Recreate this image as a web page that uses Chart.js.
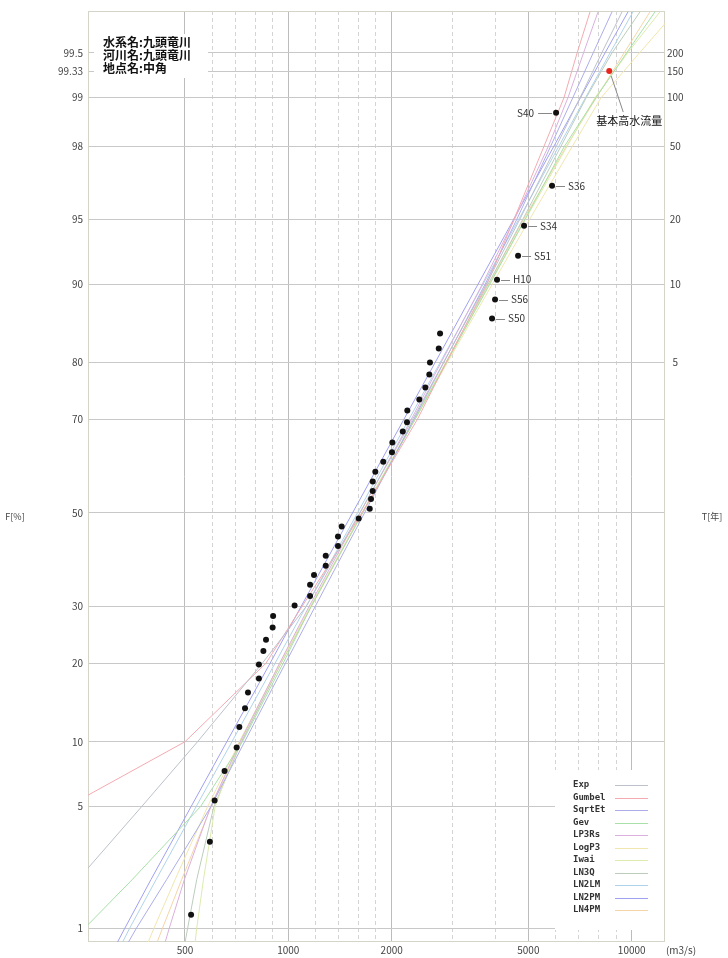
<!DOCTYPE html>
<html>
<head>
<meta charset="utf-8">
<script src="https://cdn.jsdelivr.net/npm/chart.js@4.4.0/dist/chart.umd.min.js"></script>
<style>
  html, body { margin: 0; padding: 0; background: #fff; }
  #wrap { width: 728px; height: 958px; position: relative; }
</style>
</head>
<body>
<div id="wrap"><canvas id="chart"></canvas></div>
<script>
// observed annual maximum discharge (m3/s) and plotting position F (%)
const obsQ = [6022, 5861, 4858, 4667, 4053, 3999, 3920, 2766, 2742, 2585, 2574, 2506, 2407, 2221, 2216, 2154,
              2009, 2004, 1890, 1792, 1761, 1761, 1741, 1726, 1603, 1430, 1395, 1395, 1285, 1285, 1188, 1157,
              1157, 1043, 903, 900, 861, 846, 821, 821, 763, 748, 720, 707, 652, 610, 591, 521];
const obsF = [98.75, 96.65, 94.61, 92.51, 90.43, 88.39, 86.18, 84.24, 82.13, 80.01, 78.08, 75.87, 73.73, 71.68, 69.43, 67.58,
              65.34, 63.31, 61.27, 59.11, 56.99, 54.90, 53.12, 50.94, 48.77, 46.99, 44.77, 42.63, 40.54, 38.38, 36.39, 34.35,
              32.08, 30.20, 28.17, 26.05, 23.87, 21.97, 19.79, 17.68, 15.72, 13.70, 11.54, 9.45, 7.41, 5.37, 3.28, 1.22];
// names of the largest floods (same order as the top of obsQ)
const obsNames = ['S40', 'S36', 'S34', 'S51', 'H10', 'S56', 'S50'];

// basic high water discharge (1/150)
const designQ = [8600];
const designF = [99.333];
const designLabel = '基本高水流量';

// fitted distributions, Q (m3/s) at each probability of curveF
const curveF   = [0.8, 1, 2, 5, 10, 20, 30, 50, 70, 80, 90, 95, 98, 99, 99.5, 99.75];
const expQ     = [169, 183, 244, 374, 544, 840, 1127, 1614, 2301, 2829, 3771, 4723, 6032, 7074, 8177, 9375];
const gumbelQ  = [null, null, null, 227, 500, 861, 1096, 1639, 2377, 2880, 3790, 4542, 5554, 6352, 6933, 7563];
const sqrtEtQ  = [341, 361, 442, 595, 746, 981, 1197, 1667, 2320, 2833, 3743, 4629, 5807, 6740, 7720, 8765];
const gevQ     = [234, 255, 351, 555, 735, 966, 1164, 1645, 2339, 2886, 3863, 4890, 6371, 7874, 9656, 11696];
const lp3rsQ   = [437, 450, 498, 594, 724, 943, 1149, 1617, 2280, 2784, 3674, 4558, 5718, 6524, 7238, 7980];
const logP3Q   = [390, 406, 468, 582, 721, 946, 1160, 1642, 2339, 2906, 3928, 5044, 6719, 8149, 10530, 13404];
const iwaiQ    = [535, 541, 566, 612, 720, 950, 1159, 1638, 2323, 2869, 3847, 4903, 6488, 7821, 9728, 12093];
const ln3qQ    = [500, 509, 541, 607, 731, 953, 1163, 1642, 2337, 2879, 3819, 4819, 6223, 7374, 8758, 10578];
const ln2lmQ   = [328, 345, 412, 539, 685, 915, 1126, 1590, 2245, 2766, 3692, 4688, 6136, 7338, 8644, 10092];
const ln2pmQ   = [317, 334, 398, 521, 662, 885, 1089, 1538, 2171, 2675, 3570, 4533, 5934, 7096, 8359, 9759];
const ln4pmQ   = [414, 430, 489, 596, 730, 952, 1167, 1646, 2339, 2886, 3834, 4844, 6451, 7894, 9500, 11310];

const curveNames  = ['Exp', 'Gumbel', 'SqrtEt', 'Gev', 'LP3Rs', 'LogP3', 'Iwai', 'LN3Q', 'LN2LM', 'LN2PM', 'LN4PM'];
const curveValues = [expQ, gumbelQ, sqrtEtQ, gevQ, lp3rsQ, logP3Q, iwaiQ, ln3qQ, ln2lmQ, ln2pmQ, ln4pmQ];
const curveColors = ['#bcc1cb', '#f4aab1', '#adadea', '#a8e0a8', '#dbb0de', '#f1e6ae',
                     '#dcebae', '#bccdbc', '#b0d3ec', '#a0a0f0', '#f5d5a8'];

// axis ticks
const fTicks  = [1, 5, 10, 20, 30, 50, 70, 80, 90, 95, 98, 99, 99.33, 99.5];   // F[%], left
const tTicks  = [5, 10, 20, 50, 100, 150, 200];                                 // T[年], right
const qMajor  = [500, 1000, 2000, 5000, 10000];
const qMinor  = [600, 700, 800, 900, 1200, 1400, 1600, 1800, 3000, 4000, 6000, 7000, 8000, 9000];

const stationText = ['水系名:九頭竜川', '河川名:九頭竜川', '地点名:中角'];

const family = "'Noto Sans CJK JP', 'Noto Sans', sans-serif";

// inverse normal CDF (Acklam), used for the probability axis
function probit(p) {
  const a = [-3.969683028665376e+01, 2.209460984245205e+02, -2.759285104469687e+02, 1.383577518672690e+02, -3.066479806614716e+01, 2.506628277459239e+00];
  const b = [-5.447609879822406e+01, 1.615858368580409e+02, -1.556989798598866e+02, 6.680131188771972e+01, -1.328068155288572e+01];
  const c = [-7.784894002430293e-03, -3.223964580411365e-01, -2.400758277161838e+00, -2.549732539343734e+00, 4.374664141464968e+00, 2.938163982698783e+00];
  const d = [7.784695709041462e-03, 3.224671290700398e-01, 2.445134137142996e+00, 3.754408661907416e+00];
  const pl = 0.02425;
  let q, r;
  if (p < pl) {
    q = Math.sqrt(-2 * Math.log(p));
    return (((((c[0]*q+c[1])*q+c[2])*q+c[3])*q+c[4])*q+c[5]) / ((((d[0]*q+d[1])*q+d[2])*q+d[3])*q+1);
  }
  if (p > 1 - pl) {
    q = Math.sqrt(-2 * Math.log(1 - p));
    return -(((((c[0]*q+c[1])*q+c[2])*q+c[3])*q+c[4])*q+c[5]) / ((((d[0]*q+d[1])*q+d[2])*q+d[3])*q+1);
  }
  q = p - 0.5; r = q * q;
  return (((((a[0]*r+a[1])*r+a[2])*r+a[3])*r+a[4])*r+a[5])*q / (((((b[0]*r+b[1])*r+b[2])*r+b[3])*r+b[4])*r+1);
}
const z = f => probit(f / 100);

// datasets
const datasets = [];
datasets.push({
  label: 'obs',
  data: obsQ.map((q, i) => ({ x: q, y: z(obsF[i]) })),
  showLine: false,
  pointRadius: 3,
  pointBackgroundColor: '#111',
  pointBorderWidth: 0,
  order: 0
});
datasets.push({
  label: 'design',
  data: designQ.map((q, i) => ({ x: q, y: z(designF[i]) })),
  showLine: false,
  pointRadius: 3,
  pointBackgroundColor: '#e8261e',
  pointBorderWidth: 0,
  order: 0
});
curveNames.forEach((name, i) => {
  datasets.push({
    label: name,
    data: curveF.map((f, j) => curveValues[i][j] == null ? null : { x: curveValues[i][j], y: z(f) }).filter(p => p),
    showLine: true,
    borderColor: curveColors[i],
    borderWidth: 1,
    pointRadius: 0,
    tension: 0,
    clip: 0,
    order: 1
  });
});

// extra drawing: boxes, legend, labels
const overlay = {
  id: 'overlay',
  beforeDatasetsDraw(chart) {
    const { ctx, chartArea: a } = chart;
    ctx.save();
    ctx.fillStyle = '#fff';
    ctx.fillRect(94, 34, 114, 44);        // station info box
    ctx.fillRect(555, 770, a.right - 556, 160); // legend box
    // frame
    ctx.strokeStyle = '#d4d4c8';
    ctx.lineWidth = 1;
    ctx.strokeRect(a.left + 0.5, a.top + 0.5, a.right - a.left - 1, a.bottom - a.top - 1);
    // station info
    ctx.fillStyle = '#111';
    ctx.font = `bold 12px ${family}`;
    ctx.textAlign = 'left';
    ctx.textBaseline = 'middle';
    stationText.forEach((t, i) => ctx.fillText(t, 103, 42 + i * 13));
    // legend
    ctx.font = "bold 9px 'DejaVu Sans Mono', monospace";
    curveNames.forEach((n, i) => {
      const y = Math.round(785 + i * 12.5);
      ctx.fillStyle = '#333';
      ctx.fillText(n, 573, y);
      ctx.strokeStyle = curveColors[i];
      ctx.lineWidth = 1.2;
      ctx.beginPath();
      ctx.moveTo(615, y + 0.5);
      ctx.lineTo(648, y + 0.5);
      ctx.stroke();
    });
    ctx.restore();
  },
  afterDatasetsDraw(chart) {
    const ctx = chart.ctx;
    ctx.save();
    ctx.font = `10px ${family}`;
    ctx.textBaseline = 'middle';
    ctx.strokeStyle = '#888';
    ctx.lineWidth = 1;
    ctx.fillStyle = '#333';
    // flood names
    const pts = chart.getDatasetMeta(0).data;
    obsNames.forEach((name, i) => {
      const p = pts[i];
      const y = Math.round(p.y) + 0.5;
      ctx.beginPath();
      if (i === 0) {
        ctx.moveTo(p.x - 4, y); ctx.lineTo(p.x - 18, y); ctx.stroke();
        ctx.textAlign = 'right';
        ctx.fillText(name, p.x - 22, p.y);
      } else {
        ctx.moveTo(p.x + 4, y); ctx.lineTo(p.x + 13, y); ctx.stroke();
        ctx.textAlign = 'left';
        ctx.fillText(name, p.x + 16, p.y);
      }
    });
    // design flood label
    const d = chart.getDatasetMeta(1).data[0];
    ctx.beginPath();
    ctx.moveTo(d.x + 2, d.y + 5);
    ctx.lineTo(d.x + 14, d.y + 41);
    ctx.stroke();
    ctx.fillStyle = '#111';
    ctx.font = `11px ${family}`;
    ctx.textAlign = 'left';
    ctx.fillText(designLabel, d.x - 13, d.y + 50);
    ctx.restore();
  },
  afterDraw(chart) {
    const ctx = chart.ctx;
    ctx.save();
    ctx.fillStyle = '#444';
    ctx.font = `9px ${family}`;
    ctx.textAlign = 'center';
    ctx.textBaseline = 'middle';
    ctx.fillText('F[%]', 15, 517);
    ctx.fillText('T[年]', 712, 517);
    ctx.font = `10px ${family}`;
    ctx.fillText('(m3/s)', 681, 950);
    ctx.restore();
  }
};

const tickFont = { family: family, size: 10 };

new Chart(document.getElementById('chart'), {
  type: 'scatter',
  data: { datasets: datasets },
  options: {
    responsive: true,
    maintainAspectRatio: false,
    animation: false,
    layout: { padding: { top: 10, left: 0, right: 0, bottom: 0 } },
    plugins: {
      legend: { display: false },
      tooltip: { enabled: false }
    },
    scales: {
      x: {
        type: 'logarithmic',
        min: 261,
        max: 12500,
        afterBuildTicks: s => { s.ticks = qMajor.concat(qMinor).sort((p, q) => p - q).map(v => ({ value: v })); },
        afterFit: s => { s.height = 16; },
        grid: {
          drawTicks: false,
          lineWidth: 1,
          color: c => (c.tick && qMajor.includes(c.tick.value)) ? '#bcbcbc' : '#d4d4d4'
        },
        border: {
          display: false,
          dash: c => (c.tick && qMajor.includes(c.tick.value)) ? [] : [4, 3]
        },
        ticks: {
          autoSkip: false,
          maxRotation: 0,
          padding: 2,
          color: '#444',
          font: tickFont,
          callback: v => qMajor.includes(v) ? String(v) : ''
        }
      },
      y: {
        type: 'linear',
        position: 'left',
        min: -2.403,
        max: 2.811,
        afterBuildTicks: s => { s.ticks = fTicks.map(f => ({ value: z(f) })); },
        afterFit: s => { s.width = 88; },
        grid: { drawTicks: false, color: '#c8c8c8', lineWidth: 1 },
        border: { display: false },
        ticks: {
          autoSkip: false,
          padding: 5,
          color: '#444',
          font: tickFont,
          callback: (v, i) => String(fTicks[i])
        }
      },
      y2: {
        type: 'linear',
        position: 'right',
        min: -2.403,
        max: 2.811,
        afterBuildTicks: s => { s.ticks = tTicks.map(t => ({ value: z(100 - 100 / t) })); },
        afterFit: s => { s.width = 63; },
        grid: { drawOnChartArea: false, drawTicks: false },
        border: { display: false },
        ticks: {
          autoSkip: false,
          crossAlign: 'center',
          padding: 2,
          color: '#444',
          font: tickFont,
          callback: (v, i) => String(tTicks[i])
        }
      }
    }
  },
  plugins: [overlay]
});
</script>
</body>
</html>
